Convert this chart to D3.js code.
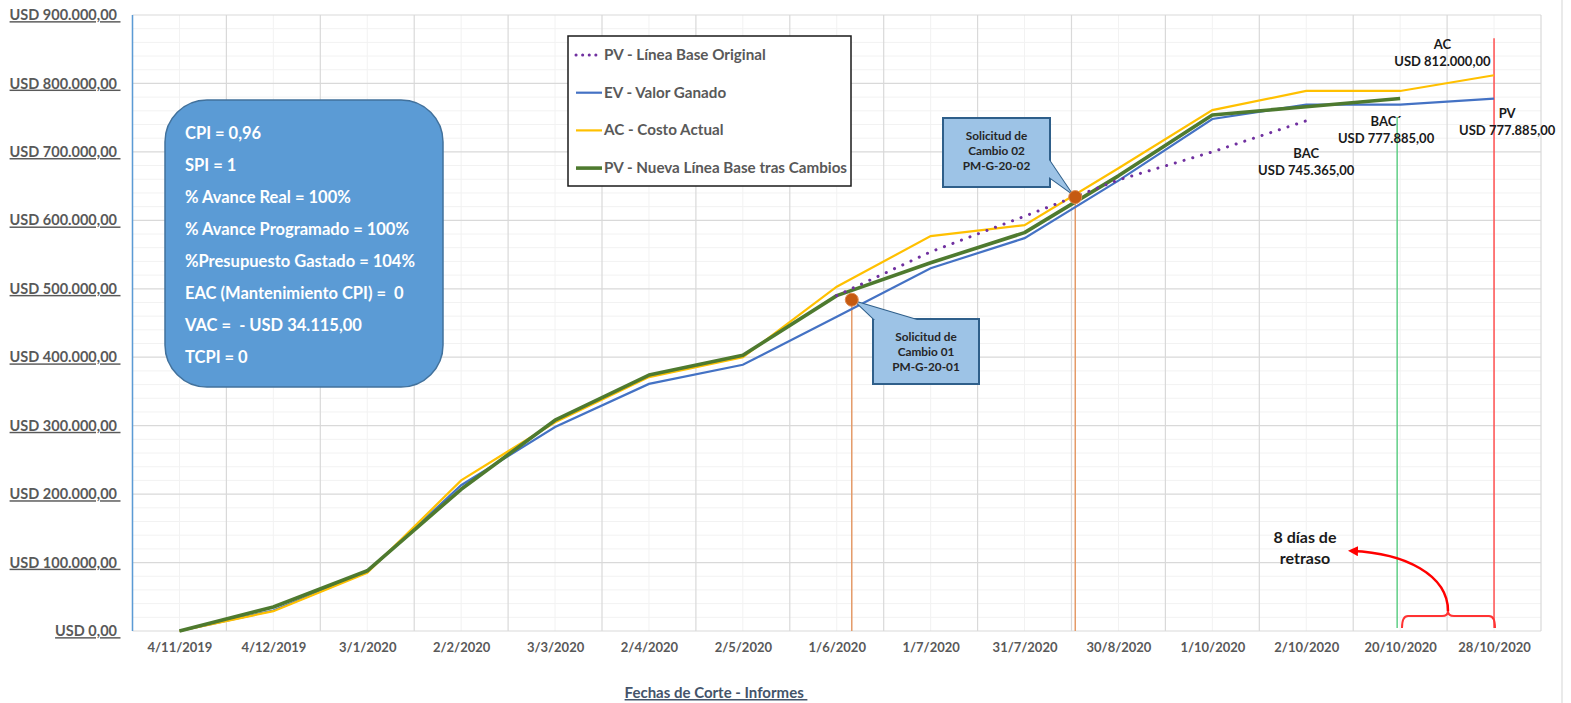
<!DOCTYPE html>
<html>
<head>
<meta charset="utf-8">
<script src="https://cdn.jsdelivr.net/npm/d3@7"></script>
<style>
  body { margin: 0; background: #fff; }
  text { font-family: Lato, "Open Sans", sans-serif; white-space: pre; }
</style>
</head>
<body>
<script>
const width = 1571;
const height = 703;

// fechas de corte
const categories = ["4/11/2019", "4/12/2019", "3/1/2020", "2/2/2020", "3/3/2020", "2/4/2020", "2/5/2020",
  "1/6/2020", "1/7/2020", "31/7/2020", "30/8/2020", "1/10/2020", "2/10/2020", "20/10/2020", "28/10/2020"];

// series (USD)
const pvOriginal = [null, null, null, null, null, null, null, 490000, 554000, 606000, 659000, 700000, 745365, null, null];
const ev = [0, 30000, 86000, 213000, 298000, 361000, 389000, 459000, 530000, 574000, 658000, 748000, 769000, 769000, 777885];
const ac = [0, 29000, 85000, 220000, 305000, 371000, 400000, 503000, 577000, 593000, 676000, 761000, 789000, 789000, 812000];
const pvNew = [0, 35000, 88000, 207000, 308000, 374000, 403000, 490000, 538000, 582000, 665000, 754000, 766000, 777885, null];

const yTicks = d3.range(0, 900001, 100000);

const legendLabels = ["PV - Línea Base Original", "EV - Valor Ganado", "AC - Costo Actual", "PV - Nueva Línea Base tras Cambios"];
const indicators = ["CPI = 0,96", "SPI = 1", "% Avance Real = 100%", "% Avance Programado = 100%",
  "%Presupuesto Gastado = 104%", "EAC (Mantenimiento CPI) =  0", "VAC =  - USD 34.115,00", "TCPI = 0"];

// solicitudes de cambio (posicion en indice de fecha, valor)
const changes = [
  {idx: 7.16, value: 484000, text: ["Solicitud de", "Cambio 01", "PM-G-20-01"]},
  {idx: 9.54, value: 634000, text: ["Solicitud de", "Cambio 02", "PM-G-20-02"]}
];

const locale = d3.formatLocale({decimal: ",", thousands: ".", grouping: [3], currency: ["USD ", ""]});
const usd = locale.format("$,.2f");

const margin = {left: 132.5, right: 1541, top: 15, bottom: 631};

const x = d3.scaleLinear().domain([-0.5, categories.length - 0.5]).range([margin.left, margin.right]);
const y = d3.scaleLinear().domain([0, 900000]).range([margin.bottom, margin.top]);

const svg = d3.select("body").append("svg")
  .attr("width", width)
  .attr("height", height);

// chart border on the right
svg.append("line")
  .attr("x1", 1562).attr("x2", 1562).attr("y1", 0).attr("y2", height)
  .attr("stroke", "#e3e3e3").attr("stroke-width", 1.5);

// gridlines
const grid = svg.append("g");
grid.selectAll(".hminor")
  .data(d3.range(0, 900001, 20000).filter(d => d % 100000 !== 0))
  .enter().append("line")
  .attr("x1", margin.left).attr("x2", margin.right)
  .attr("y1", d => y(d)).attr("y2", d => y(d))
  .attr("stroke", "#f2f2f2").attr("stroke-width", 1);
grid.selectAll(".vminor")
  .data(d3.range(categories.length))
  .enter().append("line")
  .attr("x1", d => x(d)).attr("x2", d => x(d))
  .attr("y1", margin.top).attr("y2", margin.bottom)
  .attr("stroke", "#f2f2f2").attr("stroke-width", 1);
grid.selectAll(".hmajor")
  .data(yTicks)
  .enter().append("line")
  .attr("x1", margin.left).attr("x2", margin.right)
  .attr("y1", d => y(d)).attr("y2", d => y(d))
  .attr("stroke", "#d9d9d9").attr("stroke-width", 1.2);
grid.selectAll(".vmajor")
  .data(d3.range(categories.length + 1))
  .enter().append("line")
  .attr("x1", d => x(d - 0.5)).attr("x2", d => x(d - 0.5))
  .attr("y1", margin.top).attr("y2", margin.bottom)
  .attr("stroke", "#d9d9d9").attr("stroke-width", 1.2);

// left axis line
svg.append("line")
  .attr("x1", margin.left).attr("x2", margin.left)
  .attr("y1", margin.top).attr("y2", margin.bottom)
  .attr("stroke", "#5b9bd5").attr("stroke-width", 1.5);

// y axis labels
const yAxis = svg.append("g")
  .attr("transform", "translate(" + margin.left + ",0)")
  .call(d3.axisLeft(y).tickValues(yTicks).tickFormat(d => usd(d) + " ").tickSize(0).tickPadding(12));
yAxis.select(".domain").remove();
yAxis.selectAll("text")
  .attr("fill", "#595959")
  .style("font-size", "14.5px")
  .style("font-weight", "bold")
  .style("text-decoration", "underline");

// x axis labels
const xAxis = svg.append("g")
  .attr("transform", "translate(0," + margin.bottom + ")")
  .call(d3.axisBottom(x).tickValues(d3.range(categories.length)).tickFormat(i => categories[i]).tickSize(0).tickPadding(12));
xAxis.select(".domain").remove();
xAxis.selectAll("text")
  .attr("fill", "#595959")
  .style("font-size", "13px")
  .style("font-weight", "bold");

svg.append("text")
  .attr("x", 716).attr("y", 698)
  .attr("text-anchor", "middle")
  .attr("fill", "#44546a")
  .style("font-size", "15px")
  .style("font-weight", "bold")
  .style("text-decoration", "underline")
  .text("Fechas de Corte - Informes ");

// vertical reference lines
svg.append("line")
  .attr("x1", x(13) - 3).attr("x2", x(13) - 3)
  .attr("y1", y(751000)).attr("y2", margin.bottom - 3)
  .attr("stroke", "#5fcf86").attr("stroke-width", 1.5);
svg.append("line")
  .attr("x1", x(14)).attr("x2", x(14))
  .attr("y1", y(866000)).attr("y2", margin.bottom - 3)
  .attr("stroke", "#ff5050").attr("stroke-width", 1.5);

// change request lines
svg.selectAll(".chline")
  .data(changes)
  .enter().append("line")
  .attr("x1", d => x(d.idx)).attr("x2", d => x(d.idx))
  .attr("y1", d => y(d.value)).attr("y2", margin.bottom)
  .attr("stroke", "#e49a68").attr("stroke-width", 1.5);

// series lines
const line = d3.line()
  .defined(d => d != null)
  .x((d, i) => x(i))
  .y(d => y(d));

svg.append("path").datum(ev)
  .attr("d", line).attr("fill", "none")
  .attr("stroke", "#4472c4").attr("stroke-width", 2.2);
svg.append("path").datum(ac)
  .attr("d", line).attr("fill", "none")
  .attr("stroke", "#ffc000").attr("stroke-width", 2.2);
svg.append("path").datum(pvNew)
  .attr("d", line).attr("fill", "none")
  .attr("stroke", "#4e7a2f").attr("stroke-width", 3.6)
  .attr("stroke-linejoin", "round");
svg.append("path").datum(pvOriginal)
  .attr("d", line).attr("fill", "none")
  .attr("stroke", "#7030a0").attr("stroke-width", 3)
  .attr("stroke-linecap", "round")
  .attr("stroke-dasharray", "0.1,9");

// callouts
const c1 = changes[0], c2 = changes[1];
const callout = svg.append("g");
function drawCallout(c, box, tip) {
  const px = x(c.idx), py = y(c.value);
  const tri = "M" + tip[0][0] + "," + tip[0][1] + " L" + (px + tip[2][0]) + "," + (py + tip[2][1]) + " L" + tip[1][0] + "," + tip[1][1] + " Z";
  callout.append("path")
    .attr("d", tri)
    .attr("fill", "#9dc3e6").attr("stroke", "#2f5f8a").attr("stroke-width", 2).attr("stroke-linejoin", "round");
  callout.append("rect")
    .attr("x", box[0]).attr("y", box[1]).attr("width", box[2]).attr("height", box[3])
    .attr("fill", "#9dc3e6").attr("stroke", "#2f5f8a").attr("stroke-width", 2);
  // cover the seam between pointer and box
  callout.append("path")
    .attr("d", tri)
    .attr("fill", "#9dc3e6").attr("stroke", "none");
  callout.selectAll(null)
    .data(c.text)
    .enter().append("text")
    .attr("x", box[0] + box[2] / 2)
    .attr("y", (d, i) => box[1] + 22 + i * 15)
    .attr("text-anchor", "middle")
    .attr("fill", "#262626")
    .style("font-size", "11.8px")
    .style("font-weight", "bold")
    .text(d => d);
}
drawCallout(c1, [873, 319, 106, 65], [[875, 320], [917, 320], [4, 2]]);
drawCallout(c2, [943, 118, 107, 69], [[1049, 160], [1049, 177], [-4, -4]]);

svg.selectAll(".chdot")
  .data(changes)
  .enter().append("circle")
  .attr("cx", d => x(d.idx)).attr("cy", d => y(d.value))
  .attr("r", 6.5)
  .attr("fill", "#c55a11").attr("stroke", "#e08a50").attr("stroke-width", 1);

// value labels
const valueLabels = [
  {idx: 14 - 0.55, value: 812000, dy: [44, 61], text: ["AC", usd(812000)]},
  {idx: 13 - 0.15, value: 777885, dy: [121, 138], text: ["BAC´", usd(777885)]},
  {idx: 14 + 0.14, value: 777885, dy: [113, 130], text: ["PV", usd(777885)]},
  {idx: 12, value: 745365, dy: [153, 170], text: ["BAC", usd(745365)]}
];
valueLabels.forEach(l => {
  svg.selectAll(null)
    .data(l.text)
    .enter().append("text")
    .attr("x", x(l.idx))
    .attr("y", (d, i) => l.dy[i] + 5)
    .attr("text-anchor", "middle")
    .attr("fill", "#1a1a1a")
    .style("font-size", "13px")
    .style("font-weight", "bold")
    .text(d => d);
});

// delay annotation
svg.append("defs").append("marker")
  .attr("id", "arrow")
  .attr("viewBox", "0 -5 10 10")
  .attr("refX", 6).attr("refY", 0)
  .attr("markerWidth", 4).attr("markerHeight", 4)
  .attr("orient", "auto")
  .append("path")
  .attr("d", "M0,-5L10,0L0,5Z")
  .attr("fill", "#ff0000");

svg.append("path")
  .attr("d", "M1402,628 Q1402,616 1408,616 L1442,616 Q1448,616 1448,611 Q1448,616 1454,616 L1489,616 Q1495,616 1495,628")
  .attr("fill", "none").attr("stroke", "#ff3333").attr("stroke-width", 2);
svg.append("path")
  .attr("d", "M1448,611 C1448,575 1405,553 1352,551")
  .attr("fill", "none").attr("stroke", "#ff0000").attr("stroke-width", 2.5)
  .attr("marker-end", "url(#arrow)");

svg.selectAll(".delay")
  .data(["8 días de", "retraso"])
  .enter().append("text")
  .attr("x", 1305)
  .attr("y", (d, i) => 543 + i * 21)
  .attr("text-anchor", "middle")
  .attr("fill", "#1a1a1a")
  .style("font-size", "16px")
  .style("font-weight", "bold")
  .text(d => d);

// indicators box
svg.append("rect")
  .attr("x", 165).attr("y", 100).attr("width", 278).attr("height", 287)
  .attr("rx", 42).attr("ry", 42)
  .attr("fill", "#5b9bd5").attr("stroke", "#41719c").attr("stroke-width", 1.5);
svg.selectAll(".ind")
  .data(indicators)
  .enter().append("text")
  .attr("x", 185)
  .attr("y", (d, i) => 139 + i * 32)
  .attr("fill", "#ffffff")
  .style("font-size", "16.5px")
  .style("font-weight", "bold")
  .text(d => d);

// legend
const legend = svg.append("g");
legend.append("rect")
  .attr("x", 568).attr("y", 36).attr("width", 283).attr("height", 150)
  .attr("fill", "#ffffff").attr("stroke", "#1a1a1a").attr("stroke-width", 1.5);
const legendStyles = [
  {color: "#7030a0", w: 3, dash: "0.1,6.5"},
  {color: "#4472c4", w: 2.2, dash: null},
  {color: "#ffc000", w: 2.2, dash: null},
  {color: "#4e7a2f", w: 3.6, dash: null}
];
const rows = legend.selectAll(".row")
  .data(legendLabels)
  .enter().append("g")
  .attr("transform", (d, i) => "translate(0," + (55 + i * 37.7) + ")");
rows.append("line")
  .attr("x1", 576).attr("x2", 602)
  .attr("stroke", (d, i) => legendStyles[i].color)
  .attr("stroke-width", (d, i) => legendStyles[i].w)
  .attr("stroke-linecap", (d, i) => legendStyles[i].dash ? "round" : "butt")
  .attr("stroke-dasharray", (d, i) => legendStyles[i].dash);
rows.append("text")
  .attr("x", 604).attr("y", 5)
  .attr("fill", "#595959")
  .style("font-size", "15.2px")
  .style("font-weight", "bold")
  .text(d => d);
</script>
</body>
</html>
